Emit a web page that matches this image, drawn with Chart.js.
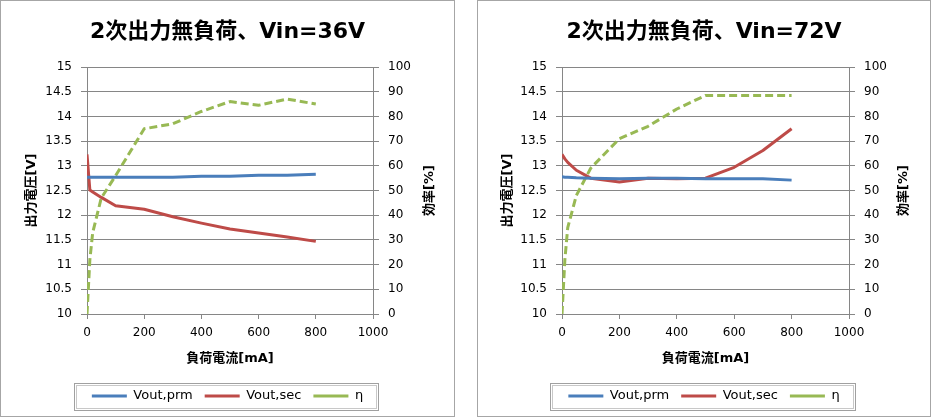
<!DOCTYPE html>
<html>
<head>
<meta charset="utf-8">
<script src="https://cdn.jsdelivr.net/npm/chart.js@4.4.0/dist/chart.umd.min.js"></script>
<style>
  body { margin: 0; background: #fff; }
  .box { position: absolute; top: 0; height: 417px; border: 1px solid #a6a6a6; box-sizing: border-box; overflow: hidden; background: #fff; }
  .box canvas { display: block; }
</style>
</head>
<body>
<div class="box" style="left:0;width:455px"><canvas id="c36" width="453" height="415"></canvas></div>
<div class="box" style="left:477px;width:454px"><canvas id="c72" width="452" height="415"></canvas></div>
<script>
// load current [mA]
const loadCurrent = [0, 10, 20, 50, 100, 200, 300, 400, 500, 600, 700, 800];

// Vin = 36V
const vPrm36 = [12.77, 12.77, 12.77, 12.77, 12.77, 12.77, 12.77, 12.79, 12.79, 12.81, 12.81, 12.83];
const vSec36 = [13.23, 12.51, 12.47, 12.36, 12.19, 12.12, 11.97, 11.84, 11.72, 11.64, 11.56, 11.47];
const eff36  = [0, 22, 33, 47, 56, 75, 77, 82, 86, 84.5, 87, 85];

// Vin = 72V
const vPrm72 = [12.78, 12.77, 12.77, 12.76, 12.75, 12.74, 12.75, 12.75, 12.74, 12.74, 12.74, 12.71];
const vSec72 = [13.23, 13.14, 13.07, 12.91, 12.75, 12.67, 12.75, 12.74, 12.75, 12.97, 13.31, 13.75];
const eff72  = [0, 22, 35, 48, 59, 71, 76, 83, 88.5, 88.5, 88.5, 88.5];

const seriesNames = ["Vout,prm", "Vout,sec", "η"];
const xRange = [0, 1000, 200];
const voltRange = [10, 15, 0.5];
const effRange = [0, 100, 10];

const FONT = '"DejaVu Sans", "Noto Sans CJK JP", sans-serif';
const GRID = "#868686";
Chart.defaults.font.family = FONT;
Chart.defaults.color = "#000";

const toPoints = ys => ys.map((y, i) => ({ x: loadCurrent[i], y }));

// right axis title, reads bottom to top like the left one
const rightTitle = {
  id: "rightTitle",
  afterDraw(chart, args, opts) {
    const { ctx, chartArea } = chart;
    ctx.save();
    ctx.translate(opts.x, (chartArea.top + chartArea.bottom) / 2);
    ctx.rotate(-Math.PI / 2);
    ctx.font = "bold 13px " + FONT;
    ctx.fillStyle = "#000";
    ctx.textAlign = "center";
    ctx.textBaseline = "middle";
    ctx.fillText(opts.text, 0, 0);
    ctx.restore();
  }
};

// double frame round the legend
const legendFrame = {
  id: "legendFrame",
  afterDraw(chart) {
    const boxes = chart.legend.legendHitBoxes;
    if (!boxes || !boxes.length) return;
    const ctx = chart.ctx;
    const left = Math.round(Math.min(...boxes.map(b => b.left)) - 18);
    const right = Math.round(Math.max(...boxes.map(b => b.left + b.width)) + 15);
    const top = Math.round(boxes[0].top + boxes[0].height / 2 - 13.5);
    ctx.save();
    ctx.lineWidth = 1;
    ctx.strokeStyle = "#a0a0a0";
    ctx.strokeRect(left + 0.5, top + 0.5, right - left, 27);
    ctx.strokeStyle = "#c8c8c8";
    ctx.strokeRect(left + 2.5, top + 2.5, right - left - 4, 23);
    ctx.restore();
  }
};

function makeChart(id, title, prm, sec, eff, leftW, yTitlePad, rightTitleX) {
  const ctx = document.getElementById(id).getContext("2d");
  return new Chart(ctx, {
    type: "line",
    data: {
      datasets: [
        { label: seriesNames[0], data: toPoints(prm), borderColor: "#4a7ebb", backgroundColor: "#4a7ebb", yAxisID: "y" },
        { label: seriesNames[1], data: toPoints(sec), borderColor: "#be4b48", backgroundColor: "#be4b48", yAxisID: "y" },
        { label: seriesNames[2], data: toPoints(eff), borderColor: "#98b954", backgroundColor: "#98b954", borderDash: [8, 4], yAxisID: "y2" }
      ]
    },
    options: {
      responsive: false,
      animation: false,
      datasets: {
        line: { borderWidth: 3, pointRadius: 0, pointHoverRadius: 0, pointStyle: "line", tension: 0, borderJoinStyle: "round", fill: false }
      },
      layout: { padding: { left: 0, right: 0, top: 0, bottom: 3.5 } },
      scales: {
        x: {
          type: "linear", min: xRange[0], max: xRange[1],
          ticks: { stepSize: xRange[2], font: { size: 12 }, padding: 7, color: "#000", callback: v => String(v) },
          grid: { drawOnChartArea: false, tickLength: 5, color: GRID },
          border: { color: GRID },
          title: { display: true, text: "負荷電流[mA]", font: { size: 13, weight: "bold" }, padding: { top: 0, bottom: 10.7 }, color: "#000" },
          afterFit: s => { s.height = 63.5; }
        },
        y: {
          position: "left", min: voltRange[0], max: voltRange[1],
          ticks: { stepSize: voltRange[2], font: { size: 12 }, padding: 9, color: "#000", callback: v => String(Math.round(v * 10) / 10) },
          grid: { color: GRID, tickLength: 6 },
          border: { color: GRID },
          title: { display: true, text: "出力電圧[V]", font: { size: 13, weight: "bold" }, padding: { top: yTitlePad, bottom: 0 }, color: "#000" },
          afterFit: s => { s.width = leftW; }
        },
        y2: {
          position: "right", min: effRange[0], max: effRange[1],
          ticks: { stepSize: effRange[2], font: { size: 12 }, padding: 9, color: "#000" },
          grid: { drawOnChartArea: false, color: GRID, tickLength: 6 },
          border: { color: GRID },
          afterFit: s => { s.width = 81; }
        }
      },
      plugins: {
        title: { display: true, text: title, font: { size: 22, weight: "bold" }, color: "#000", padding: { top: 17.8, bottom: 21.8 } },
        legend: {
          position: "bottom",
          labels: { usePointStyle: true, pointStyleWidth: 35, font: { size: 13 }, color: "#000", padding: 12 }
        },
        tooltip: { enabled: false },
        rightTitle: { x: rightTitleX, text: "効率[%]" }
      }
    },
    plugins: [rightTitle, legendFrame]
  });
}

makeChart("c36", "2次出力無負荷、Vin=36V", vPrm36, vSec36, eff36, 86, 23, 429);
makeChart("c72", "2次出力無負荷、Vin=72V", vPrm72, vSec72, eff72, 84, 21.7, 426);
</script>
</body>
</html>
